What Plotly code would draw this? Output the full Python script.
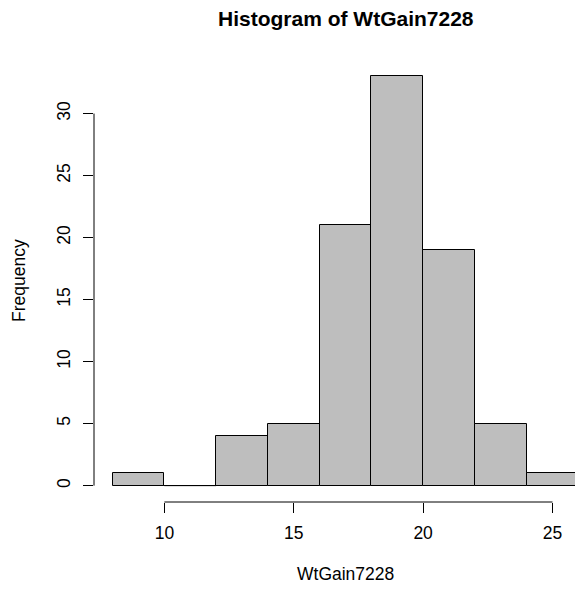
import plotly.graph_objects as go

# Histogram of weight gain: break points and counts per bin
breaks = [8, 10, 12, 14, 16, 18, 20, 22, 24, 26]
counts = [1, 0, 4, 5, 21, 33, 19, 5, 1]
x_ticks = [10, 15, 20, 25]
y_ticks = [0, 5, 10, 15, 20, 25, 30]

title_text = "Histogram of WtGain7228"
x_label = "WtGain7228"
y_label = "Frequency"

FONT = "Liberation Sans, Arial, Helvetica, sans-serif"
BAR_FILL = "#BEBEBE"

mids = [(a + b) / 2 for a, b in zip(breaks[:-1], breaks[1:])]
widths = [b - a for a, b in zip(breaks[:-1], breaks[1:])]

# R-style axis limits: data range padded by 4% on each side
x_lo, x_hi = breaks[0], breaks[-1]
x_pad = 0.04 * (x_hi - x_lo)
y_hi = max(counts)
y_pad = 0.04 * y_hi
x_range = [x_lo - x_pad, 25.87]
y_range = [-y_pad, y_hi + y_pad]
x_center = (x_lo + x_hi) / 2

fig = go.Figure()
fig.add_trace(go.Bar(
    x=mids, y=counts, width=widths,
    marker=dict(color=BAR_FILL, line=dict(color="black", width=1)),
    hoverinfo="skip",
))

# empty bins are still drawn as a flat outline along zero
for m, w, c in zip(mids, widths, counts):
    if c == 0:
        fig.add_shape(type="line", x0=m - w / 2, x1=m + w / 2, y0=0, y1=0,
                      xref="x", yref="y", line=dict(color="black", width=1))

# axis lines span only from the first to the last tick
fig.add_shape(type="line", xref="x", yref="paper",
              x0=min(x_ticks), x1=max(x_ticks), y0=0, y1=0,
              line=dict(color="black", width=1))
fig.add_shape(type="line", xref="paper", yref="y",
              x0=0, x1=0, y0=min(y_ticks), y1=max(y_ticks),
              line=dict(color="black", width=1))

fig.update_xaxes(
    range=x_range, tickvals=x_ticks, ticktext=[str(v) for v in x_ticks],
    ticks="outside", ticklen=10, tickcolor="black", tickwidth=1,
    ticklabelstandoff=5,
    showline=False, showgrid=False, zeroline=False,
    tickfont=dict(family=FONT, size=17.5, color="black"),
)
fig.update_yaxes(
    range=y_range, tickvals=y_ticks, ticktext=[str(v) for v in y_ticks],
    ticks="outside", ticklen=10, tickcolor="black", tickwidth=1,
    tickangle=-90, ticklabelstandoff=6,
    showline=False, showgrid=False, zeroline=False,
    tickfont=dict(family=FONT, size=17.5, color="black"),
)

fig.add_annotation(text="<b>" + title_text + "</b>", xref="x", yref="paper",
                   x=x_center, y=1, yanchor="middle", yshift=42, showarrow=False,
                   font=dict(family=FONT, size=21, color="black"))
fig.add_annotation(text=x_label, xref="x", yref="paper",
                   x=x_center, y=0, yanchor="middle", yshift=-72, showarrow=False,
                   font=dict(family=FONT, size=17.5, color="black"))
fig.add_annotation(text=y_label, xref="paper", yref="paper",
                   x=0, y=0.5, xanchor="center", xshift=-75, textangle=-90,
                   showarrow=False,
                   font=dict(family=FONT, size=17.5, color="black"))

fig.update_layout(
    width=575, height=589,
    margin=dict(l=94, r=0, t=60, b=87),
    plot_bgcolor="white", paper_bgcolor="white",
    showlegend=False, bargap=0,
)

fig.write_html("out.html")
